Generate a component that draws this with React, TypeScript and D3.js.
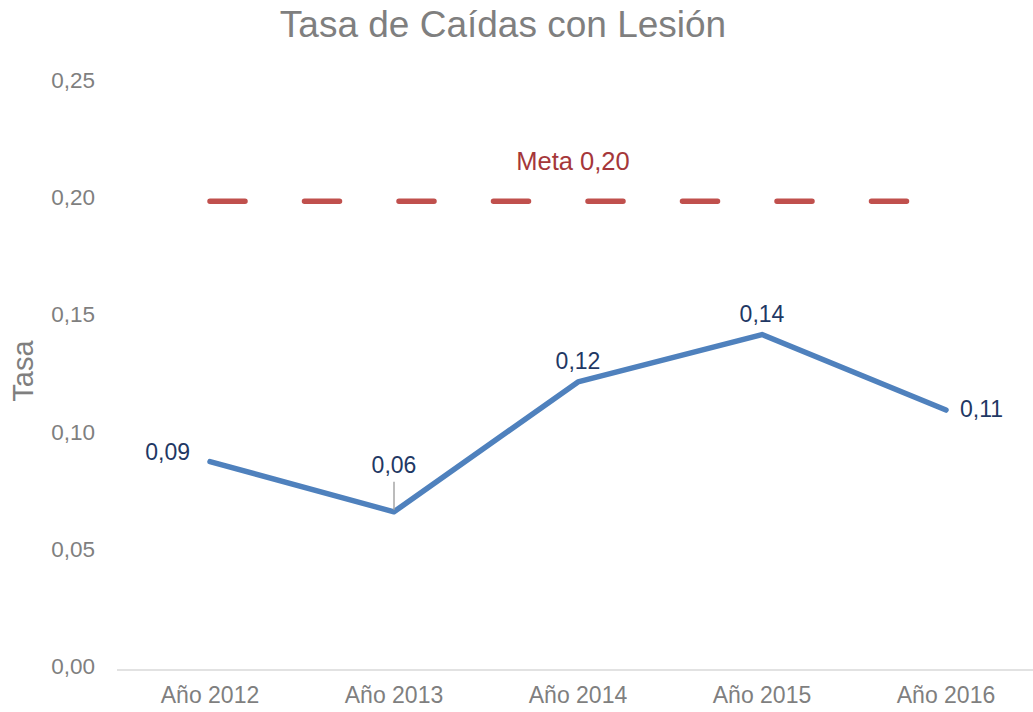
import React from "react";
import * as d3 from "d3";

const categories = ["Año 2012", "Año 2013", "Año 2014", "Año 2015", "Año 2016"];
const tasaValues = [0.0889, 0.0675, 0.1229, 0.1431, 0.1109];
const tasaLabels = ["0,09", "0,06", "0,12", "0,14", "0,11"];
const labelPositions = ["left", "above", "above", "above", "right"];
const metaValues = [0.2, 0.2, 0.2, 0.2, 0.2];
const metaLabel = "Meta 0,20";
const yTicks = [0, 0.05, 0.1, 0.15, 0.2, 0.25];
const yTickLabels = ["0,00", "0,05", "0,10", "0,15", "0,20", "0,25"];
const title = "Tasa de Caídas con Lesión";
const yTitle = "Tasa";

const W = 1033;
const H = 712;
const FONT = "'Liberation Sans', Arial, sans-serif";

export default function App() {
  const x = d3.scalePoint<string>().domain(categories).range([118, 1038]).padding(0.5);
  const y = d3.scaleLinear().domain([0, 0.25]).range([670, 84]);

  const line = d3
    .line<number>()
    .x((_, i) => x(categories[i]) as number)
    .y((d) => y(d));

  return (
    <svg
      width={W}
      height={H}
      style={{ position: "absolute", left: 0, top: 0, background: "#fff" }}
      fontFamily={FONT}
    >
      <rect x={0} y={0} width={W} height={H} fill="#fff" />
      <text x={503} y={37} textAnchor="middle" fontSize={37} fill="#7f7f7f">
        {title}
      </text>
      <text
        transform={`translate(33,371) rotate(-90)`}
        textAnchor="middle"
        fontSize={29}
        fill="#7f7f7f"
      >
        {yTitle}
      </text>
      {yTicks.map((t, i) => (
        <text key={t} x={95} y={y(t) + 4} textAnchor="end" fontSize={22.5} fill="#7f7f7f">
          {yTickLabels[i]}
        </text>
      ))}
      <line x1={117} x2={W} y1={y(0)} y2={y(0)} stroke="#d9d9d9" strokeWidth={1.5} />
      {categories.map((c) => (
        <text key={c} x={x(c) as number} y={703} textAnchor="middle" fontSize={23} fill="#7f7f7f">
          {c}
        </text>
      ))}
      {/* Meta line */}
      <path
        d={line(metaValues) || ""}
        fill="none"
        stroke="#c0504d"
        strokeWidth={5.5}
        strokeLinecap="round"
        strokeDasharray="35 59.5"
      />
      <text
        x={(x(categories[2]) as number) - 5}
        y={y(0.2) - 31}
        textAnchor="middle"
        fontSize={25.5}
        fill="#a5373a"
      >
        {metaLabel}
      </text>
      {/* Tasa line */}
      <path
        d={line(tasaValues) || ""}
        fill="none"
        stroke="#4f81bd"
        strokeWidth={5.5}
        strokeLinejoin="round"
        strokeLinecap="round"
      />
      {/* leader line for 2013 */}
      <line
        x1={x(categories[1]) as number}
        x2={x(categories[1]) as number}
        y1={y(tasaValues[1]) - 30}
        y2={y(tasaValues[1]) - 2}
        stroke="#a6a6a6"
        strokeWidth={1.5}
      />
      {tasaValues.map((v, i) => {
        const px = x(categories[i]) as number;
        const py = y(v);
        const pos = labelPositions[i];
        let tx = px;
        let ty = py - 13;
        let anchor: "start" | "middle" | "end" = "middle";
        if (pos === "left") {
          tx = px - 20;
          ty = py - 2;
          anchor = "end";
        } else if (pos === "right") {
          tx = px + 14;
          ty = py + 7;
          anchor = "start";
        } else if (i === 1) {
          ty = py - 39;
        }
        return (
          <text key={i} x={tx} y={ty} textAnchor={anchor} fontSize={23} fill="#1f3864">
            {tasaLabels[i]}
          </text>
        );
      })}
    </svg>
  );
}
